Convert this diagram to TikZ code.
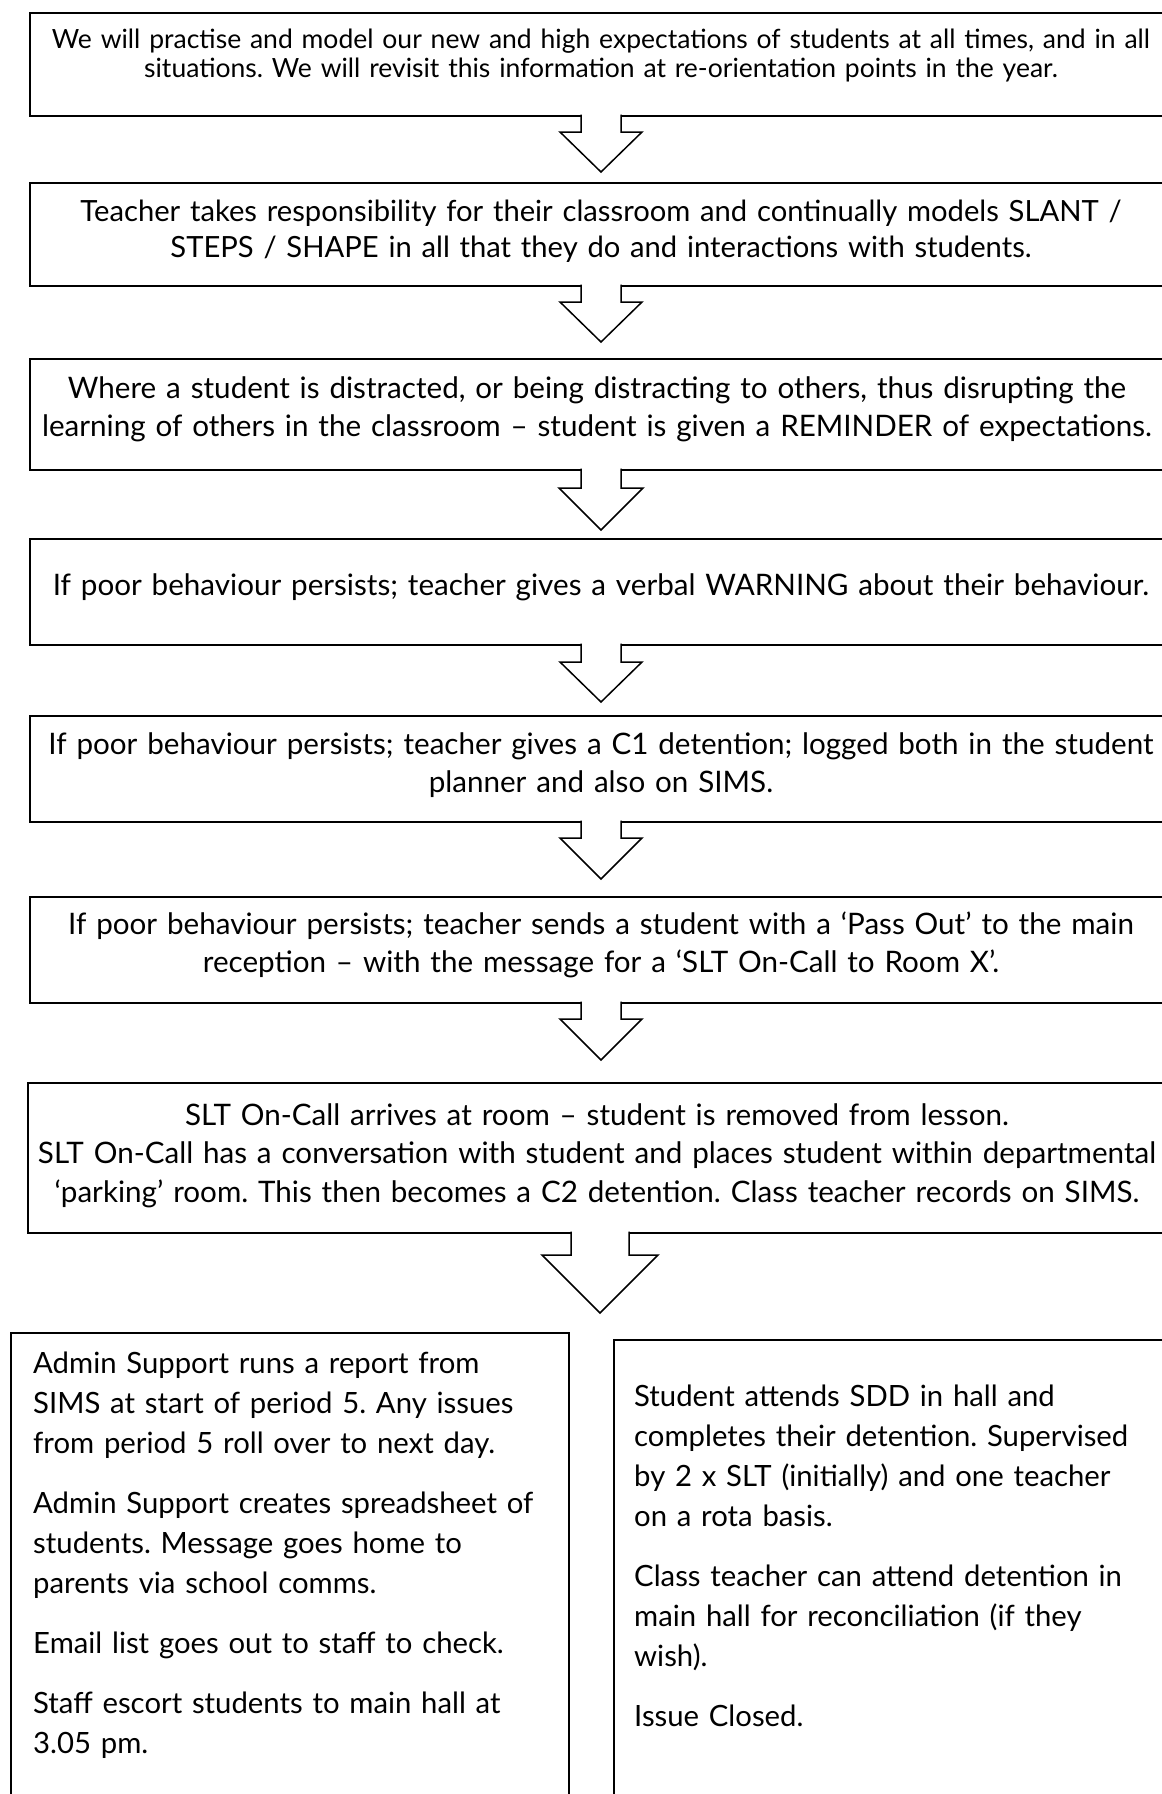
\documentclass[tikz,border=0pt]{standalone}
\usepackage{fontspec}
\setmainfont{Lato}
\usetikzlibrary{calc}
\frenchspacing
\newcommand\blockarr[5]{%
  \fill[white] ($(#1.south)+(-#2,-3)$) -- ++(0,#4+3) -- ++(-#3+#2,0) -- ++(#3,#5) -- ++(#3,-#5) -- ++(-#3+#2,0) -- ++(0,-#4-3) -- cycle;
  \draw[arrowline] ($(#1.south)+(-#2,-1.3)$) -- ++(0,#4+1.3) -- ++(-#3+#2,0) -- ++(#3,#5) -- ++(#3,-#5) -- ++(-#3+#2,0) -- ++(0,-#4-1.3);
}
\begin{document}
\begin{tikzpicture}[x=1pt,y=-1pt,
  box/.style={draw, line width=2.6pt, inner sep=0pt, outer sep=0pt, anchor=north west},
  lowbox/.style={draw, line width=2pt, inner sep=0pt, outer sep=0pt, anchor=north west},
  txt/.style={align=center, text width=1140pt, inner sep=0pt, anchor=base, font=\fontsize{29.6}{38.5}\selectfont},
  ltxt/.style={align=left, text width=540pt, inner sep=0pt, anchor=base west, font=\fontsize{29.3}{40}\selectfont},
  arrowline/.style={line width=1.5pt, line join=miter}]
\useasboundingbox (0,0) rectangle (1162,1794);
\clip (0,0) rectangle (1162,1794);
% boxes
\node[box, minimum width=1142pt, minimum height=103pt] (b1) at (30,13) {};
\node[box, minimum width=1142pt, minimum height=103pt] (b2) at (30,183) {};
\node[box, minimum width=1142pt, minimum height=111pt] (b3) at (30,359) {};
\node[box, minimum width=1142pt, minimum height=106pt] (b4) at (30,539) {};
\node[box, minimum width=1142pt, minimum height=106pt] (b5) at (30,716) {};
\node[box, minimum width=1142pt, minimum height=106pt] (b6) at (30,897) {};
\node[box, minimum width=1144pt, minimum height=150pt] (b7) at (28,1083) {};
\node[lowbox, minimum width=558pt, minimum height=500pt] (bl) at (11,1333) {};
\node[lowbox, minimum width=570pt, minimum height=500pt] (br) at (614,1340) {};
% texts
\node[txt, font=\fontsize{26.5}{29}\selectfont] (t1) at (601,48) {We will practise and model our new and high expectations of students at all times, and in all\\situations. We will revisit this information at re-orientation points in the year.};
\node[txt, font=\fontsize{29.2}{36}\selectfont] (t2) at (601,221) {Teacher takes responsibility for their classroom and continually models SLANT /\\STEPS / SHAPE in all that they do and interactions with students.};
\node[txt] (t3) at (597,398) {Where a student is distracted, or being distracting to others, thus disrupting the\\learning of others in the classroom – student is given a REMINDER of expectations.};
\node[txt] (t4) at (601,595) {If poor behaviour persists; teacher gives a verbal WARNING about their behaviour.};
\node[txt] (t5) at (601,754) {If poor behaviour persists; teacher gives a C1 detention; logged both in the student\\planner and also on SIMS.};
\node[txt] (t6) at (601,934) {If poor behaviour persists; teacher sends a student with a ‘Pass Out’ to the main\\reception – with the message for a ‘SLT On-Call to Room X’.};
\node[txt] (t7) at (597,1125) {SLT On-Call arrives at room – student is removed from lesson.\\SLT On-Call has a conversation with student and places student within departmental\\‘parking’ room. This then becomes a C2 detention. Class teacher records on SIMS.};
\node[ltxt] (tl) at (33,1373) {Admin Support runs a report from\\SIMS at start of period 5. Any issues\\from period 5 roll over to next day.\\[20pt]Admin Support creates spreadsheet of\\students. Message goes home to\\parents via school comms.\\[20pt]Email list goes out to staff to check.\\[20pt]Staff escort students to main hall at\\3.05 pm.};
\node[ltxt] (tr) at (634,1406) {Student attends SDD in hall and\\completes their detention. Supervised\\by 2 x SLT (initially) and one teacher\\on a rota basis.\\[20pt]Class teacher can attend detention in\\main hall for reconciliation (if they\\wish).\\[20pt]Issue Closed.};
% block arrows
\blockarr{b1}{20}{41}{16}{40}
\blockarr{b2}{20}{41}{16}{40}
\blockarr{b3}{20}{42}{18}{42}
\blockarr{b4}{20}{41}{17}{40}
\blockarr{b5}{20}{41}{16}{41}
\blockarr{b6}{20}{41}{16}{41}
\blockarr{b7}{29}{58}{22}{58}
\end{tikzpicture}
\end{document}
